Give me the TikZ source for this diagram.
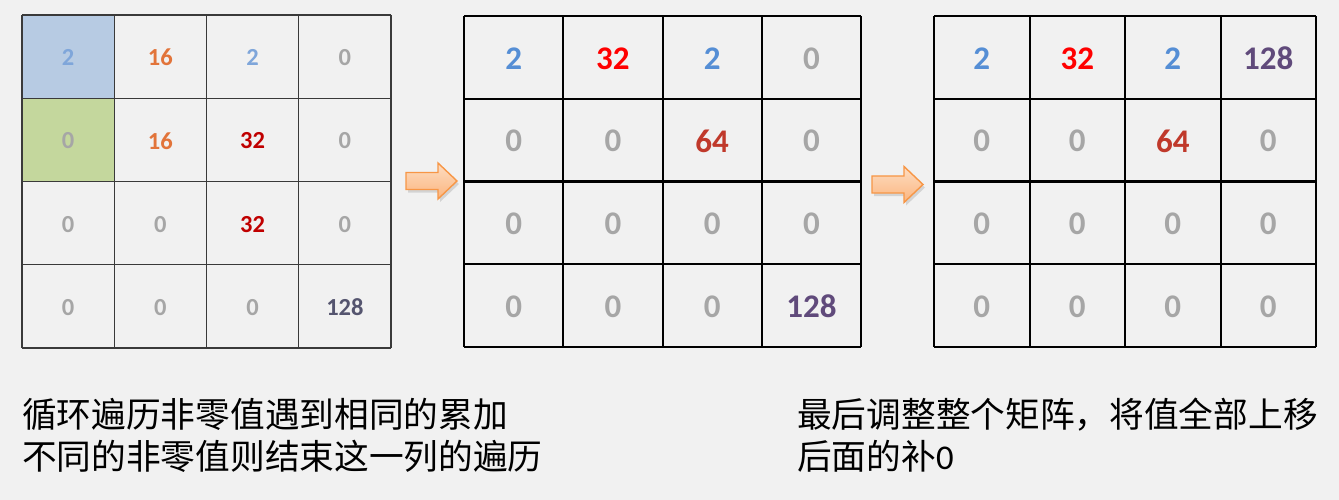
\documentclass[tikz,border=0pt]{standalone}
\usepackage{fontspec}
\setmainfont{Carlito}
\newfontfamily\cjk{Noto Sans CJK SC}
\definecolor{bgc}{HTML}{F1F1F1}
\definecolor{gridA}{HTML}{3A3A3A}
\definecolor{cellblue}{HTML}{B7CBE3}
\definecolor{cellgreen}{HTML}{C4D79D}
\definecolor{nblueA}{HTML}{7FA6DA}
\definecolor{norange}{HTML}{E2743A}
\definecolor{nredA}{HTML}{C00000}
\definecolor{ngray}{HTML}{A6A6A6}
\definecolor{nslate}{HTML}{55556F}
\definecolor{nblue}{HTML}{558ED5}
\definecolor{nred}{HTML}{FF0000}
\definecolor{ndred}{HTML}{C0392B}
\definecolor{npurple}{HTML}{604A7B}
\definecolor{arrtop}{HTML}{FDDDC2}
\definecolor{arrbot}{HTML}{FBB57F}
\definecolor{arrline}{HTML}{F79646}
\begin{document}
\begin{tikzpicture}[x=1pt,y=-1pt,
  numA/.style={font=\bfseries\fontsize{24.5}{24.5}\selectfont, inner sep=0pt},
  numB/.style={font=\bfseries\fontsize{33}{33}\selectfont, inner sep=0pt},
  gridAline/.style={draw=gridA, line width=1.1pt},
  gridAmid/.style={draw=gridA, line width=1.7pt},
  gridBline/.style={draw=black, line width=2pt},
  blockarrow/.style={top color=arrtop, bottom color=arrbot, draw=arrline, line width=1.4pt, line join=miter},
  arrshadow/.style={fill=black, opacity=0.12},
  caption/.style={font=\cjk\fontsize{34.7}{42}\selectfont, inner sep=0pt, anchor=base west}
]
\fill[bgc] (0,0) rectangle (1339,500);
\useasboundingbox (0,0) rectangle (1339,500);

% ---------- Grid 1 ----------
\fill[cellblue] (22,15) rectangle (114.25,98.25);
\fill[cellgreen] (22,98.25) rectangle (114.25,181.5);
\foreach \i in {0,4} {
  \draw[gridAline] ({22+\i*92.25},15) -- ({22+\i*92.25},348);
  \draw[gridAline] (22,{15+\i*83.25}) -- (391,{15+\i*83.25});
}
\foreach \i in {1,3} {
  \draw[gridAline] ({22+\i*92.25},15) -- ({22+\i*92.25},348);
  \draw[gridAline] (22,{15+\i*83.25}) -- (391,{15+\i*83.25});
}
\draw[gridAmid] ({22+2*92.25},15) -- ({22+2*92.25},348);
\draw[gridAmid] (22,{15+2*83.25}) -- (391,{15+2*83.25});
\foreach \r/\c/\t/\col in {
  1/1/2/nblueA, 1/2/16/norange, 1/3/2/nblueA, 1/4/0/ngray,
  2/1/0/ngray, 2/2/16/norange, 2/3/32/nredA, 2/4/0/ngray,
  3/1/0/ngray, 3/2/0/ngray, 3/3/32/nredA, 3/4/0/ngray,
  4/1/0/ngray, 4/2/0/ngray, 4/3/0/ngray, 4/4/128/nslate} {
  \node[numA, text=\col] (a-\r-\c) at ({22+(\c-0.5)*92.25},{15+(\r-0.5)*83.25+1}) {\t};
}

% ---------- Grid 2 ----------
\foreach \i in {0,...,4} {
  \draw[gridBline] ({464+\i*99.25},16) -- ({464+\i*99.25},347);
  \draw[gridBline] (464,{16+\i*82.75}) -- (861,{16+\i*82.75});
}
\foreach \r/\c/\t/\col in {
  1/1/2/nblue, 1/2/32/nred, 1/3/2/nblue, 1/4/0/ngray,
  2/1/0/ngray, 2/2/0/ngray, 2/3/64/ndred, 2/4/0/ngray,
  3/1/0/ngray, 3/2/0/ngray, 3/3/0/ngray, 3/4/0/ngray,
  4/1/0/ngray, 4/2/0/ngray, 4/3/0/ngray, 4/4/128/npurple} {
  \node[numB, text=\col] (b-\r-\c) at ({464+(\c-0.5)*99.25},{16+(\r-0.5)*82.75+1}) {\t};
}

% ---------- Grid 3 ----------
\foreach \i in {0,...,4} {
  \draw[gridBline] ({934+\i*95.5},16) -- ({934+\i*95.5},347);
  \draw[gridBline] (934,{16+\i*82.75}) -- (1316,{16+\i*82.75});
}
\foreach \r/\c/\t/\col in {
  1/1/2/nblue, 1/2/32/nred, 1/3/2/nblue, 1/4/128/npurple,
  2/1/0/ngray, 2/2/0/ngray, 2/3/64/ndred, 2/4/0/ngray,
  3/1/0/ngray, 3/2/0/ngray, 3/3/0/ngray, 3/4/0/ngray,
  4/1/0/ngray, 4/2/0/ngray, 4/3/0/ngray, 4/4/0/ngray} {
  \node[numB, text=\col] (c-\r-\c) at ({934+(\c-0.5)*95.5},{16+(\r-0.5)*82.75+1}) {\t};
}

% ---------- Block arrows ----------
\foreach \x/\y/\n in {406/181/arrA, 872/184.5/arrB} {
  \coordinate (\n) at (\x,\y);
  \fill[arrshadow] ([shift={(2,3)}]\n) -- ++(0,-8.5) -- ++(32,0) -- ++(0,-9.5) -- ++(19,18) -- ++(-19,18) -- ++(0,-9.5) -- ++(-32,0) -- cycle;
  \draw[blockarrow] (\n) -- ++(0,-8.5) -- ++(32,0) -- ++(0,-9.5) -- ++(19,18) -- ++(-19,18) -- ++(0,-9.5) -- ++(-32,0) -- cycle;
}

% ---------- Captions ----------
\node[caption] (t1) at (22,427) {循环遍历非零值遇到相同的累加};
\node[caption] (t2) at (22,469) {不同的非零值则结束这一列的遍历};
\node[caption] (t3) at (797,427) {最后调整整个矩阵，将值全部上移};
\node[caption] (t4) at (797,469) {后面的补{\rmfamily 0}};
\end{tikzpicture}
\end{document}
